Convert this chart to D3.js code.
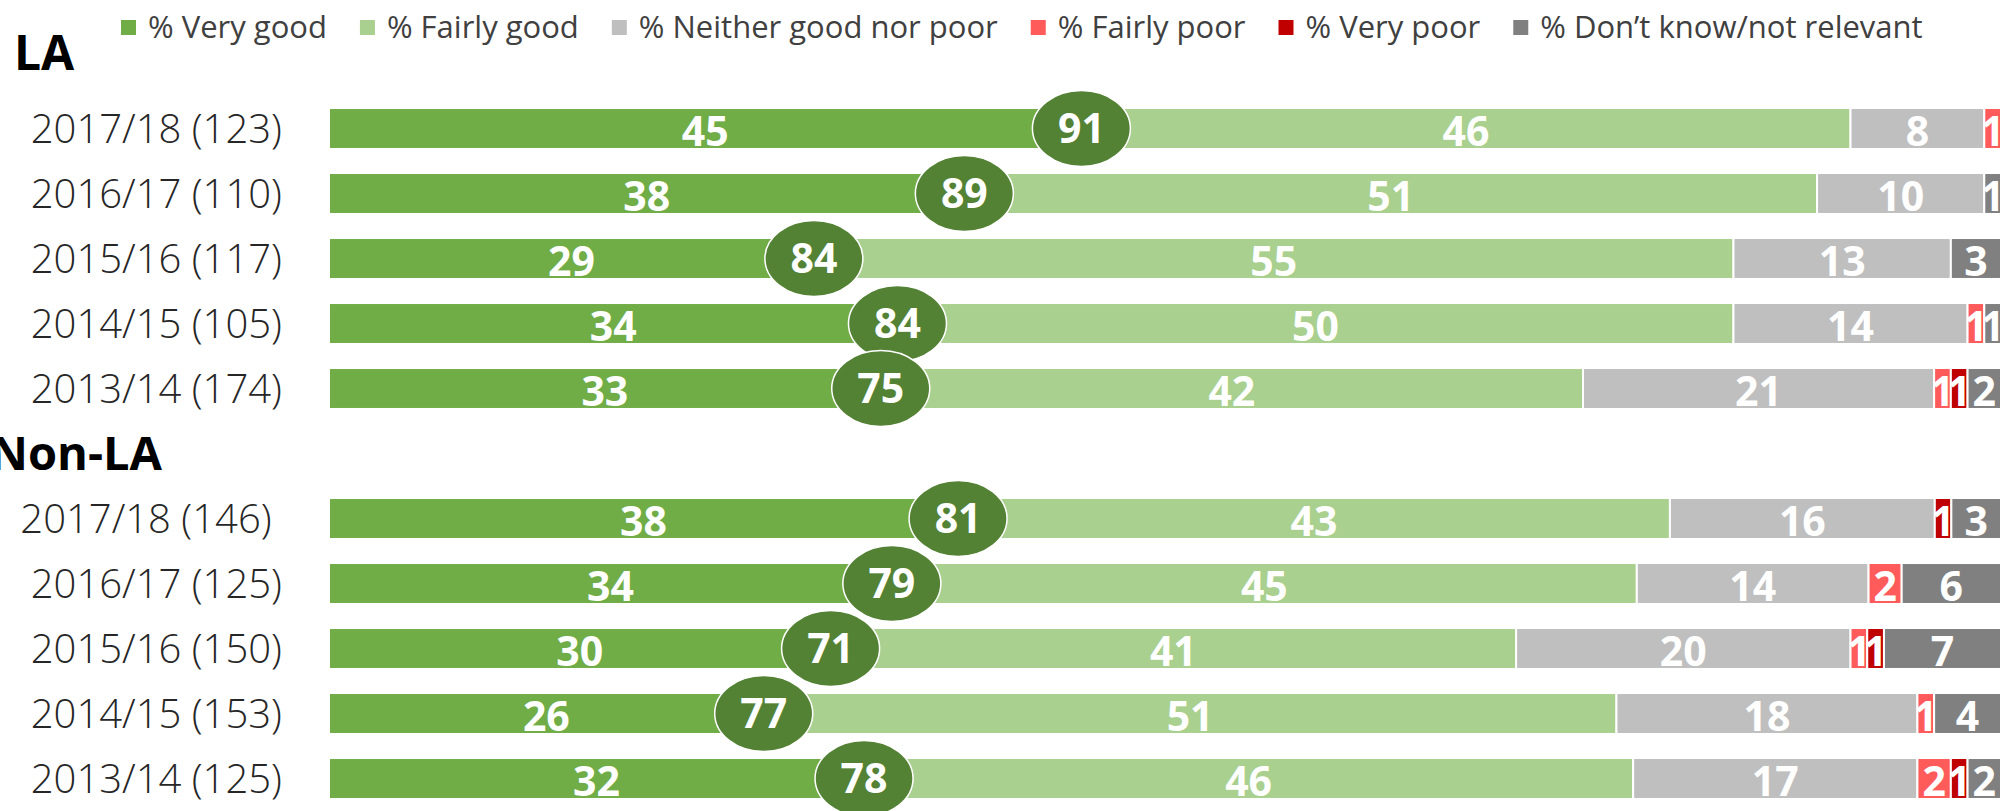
<!DOCTYPE html>
<html>
<head>
<meta charset="utf-8">
<script src="https://cdn.jsdelivr.net/npm/d3@7"></script>
<style>
  body { margin: 0; background: #fff; }
  svg { display: block; font-family: "Open Sans", "Noto Sans", sans-serif; }
</style>
</head>
<body>
<div id="chart"></div>
<script>
// series (legend order = stacking order)
var seriesNames = ["% Very good", "% Fairly good", "% Neither good nor poor",
    "% Fairly poor", "% Very poor", "% Don\u2019t know/not relevant"];
var seriesColors = ["#70AD47", "#A9D08E", "#BFBFBF", "#FF5B5B", "#C00000", "#808080"];

// LA
var laYears = ["2017/18 (123)", "2016/17 (110)", "2015/16 (117)", "2014/15 (105)", "2013/14 (174)"];
var laVeryGood   = [45, 38, 29, 34, 33];
var laFairlyGood = [46, 51, 55, 50, 42];
var laNeither    = [8, 10, 13, 14, 21];
var laFairlyPoor = [1, 0, 0, 1, 1];
var laVeryPoor   = [0, 0, 0, 0, 1];
var laDontKnow   = [0, 1, 3, 1, 2];
var laNetGood    = [91, 89, 84, 84, 75];

// Non-LA
var nonLaYears = ["2017/18 (146)\u00a0", "2016/17 (125)", "2015/16 (150)", "2014/15 (153)", "2013/14 (125)"];
var nonLaVeryGood   = [38, 34, 30, 26, 32];
var nonLaFairlyGood = [43, 45, 41, 51, 46];
var nonLaNeither    = [16, 14, 20, 18, 17];
var nonLaFairlyPoor = [0, 2, 1, 1, 2];
var nonLaVeryPoor   = [1, 0, 1, 0, 1];
var nonLaDontKnow   = [3, 6, 7, 4, 2];
var nonLaNetGood    = [81, 79, 71, 77, 78];

var width = 2004, height = 811;

function buildRows(group, years, cols, net) {
    return years.map(function (yr, i) {
        var r = {key: group + "|" + yr, label: yr, net: net[i]};
        seriesNames.forEach(function (s, j) { r[s] = cols[j][i]; });
        return r;
    });
}

var rows = buildRows("LA", laYears,
        [laVeryGood, laFairlyGood, laNeither, laFairlyPoor, laVeryPoor, laDontKnow], laNetGood)
    .concat(buildRows("Non-LA", nonLaYears,
        [nonLaVeryGood, nonLaFairlyGood, nonLaNeither, nonLaFairlyPoor, nonLaVeryPoor, nonLaDontKnow], nonLaNetGood));

// one empty band between the two groups carries the "Non-LA" heading
var yDomain = rows.slice(0, 5).map(function (d) { return d.key; })
    .concat(["Non-LA"])
    .concat(rows.slice(5).map(function (d) { return d.key; }));

var yScale = d3.scaleBand()
    .domain(yDomain)
    .range([96, 811])
    .paddingInner(0.37)
    .paddingOuter(0.185);

var xScale = d3.scaleLinear()
    .domain([0, 1])
    .range([329, 2001]);

var color = d3.scaleOrdinal().domain(seriesNames).range(seriesColors);

var stacked = d3.stack()
    .keys(seriesNames)
    .offset(d3.stackOffsetExpand)(rows);

var svg = d3.select("#chart")
    .append("svg")
    .attr("width", width)
    .attr("height", height);

// bars
var layers = svg.append("g").selectAll("g")
    .data(stacked)
    .enter().append("g")
    .attr("fill", function (d) { return color(d.key); });

layers.selectAll("rect")
    .data(function (d) { return d; })
    .enter().append("rect")
    .attr("x", function (d) { return xScale(d[0]); })
    .attr("y", function (d) { return yScale(d.data.key); })
    .attr("width", function (d) { return Math.max(0, xScale(d[1]) - xScale(d[0])); })
    .attr("height", yScale.bandwidth())
    .attr("stroke", "#fff")
    .attr("stroke-width", 2)
    .style("display", function (d) { return d[1] - d[0] > 0 ? null : "none"; });

// value labels inside bars
var labelData = [];
stacked.forEach(function (layer) {
    layer.forEach(function (d) {
        var v = d.data[layer.key];
        if (v > 0) labelData.push({v: v, x0: d[0], x1: d[1], key: d.data.key});
    });
});

svg.append("g").selectAll("text")
    .data(labelData)
    .enter().append("text")
    .attr("x", function (d) { return (xScale(d.x0) + xScale(d.x1)) / 2; })
    .attr("y", function (d) { return yScale(d.key) + yScale.bandwidth() / 2 + 3; })
    .attr("dy", "0.357em")
    .attr("text-anchor", "middle")
    .style("font-size", "41px")
    .style("font-weight", "bold")
    .style("fill", "#fff")
    .text(function (d) { return d.v; });

// net "good" ovals at the very good / fairly good boundary
var ovals = svg.append("g").selectAll("g")
    .data(stacked[0])
    .enter().append("g")
    .attr("transform", function (d) {
        return "translate(" + xScale(d[1]) + "," + (yScale(d.data.key) + yScale.bandwidth() / 2) + ")";
    });

ovals.append("ellipse")
    .attr("rx", 49)
    .attr("ry", 38)
    .attr("fill", "#548235")
    .attr("stroke", "#fff")
    .attr("stroke-width", 1.5);

ovals.append("text")
    .attr("dy", "0.357em")
    .attr("text-anchor", "middle")
    .style("font-size", "41px")
    .style("font-weight", "bold")
    .style("fill", "#fff")
    .text(function (d) { return d.data.net; });

// category labels
svg.append("g").selectAll("text")
    .data(rows)
    .enter().append("text")
    .attr("x", 282)
    .attr("y", function (d) { return yScale(d.key) + yScale.bandwidth() / 2; })
    .attr("dy", "0.357em")
    .attr("text-anchor", "end")
    .style("font-size", "40px")
    .style("font-weight", 300)
    .style("fill", "#262626")
    .text(function (d) { return d.label; });

// group headings
svg.append("text")
    .attr("x", 14)
    .attr("y", 70)
    .style("font-size", "48px")
    .style("font-weight", "bold")
    .style("fill", "#000")
    .text("LA");

svg.append("text")
    .attr("x", 162)
    .attr("y", yScale("Non-LA") + yScale.bandwidth() / 2)
    .attr("dy", "0.357em")
    .attr("text-anchor", "end")
    .style("font-size", "47px")
    .style("font-weight", "bold")
    .style("fill", "#000")
    .text("Non-LA");

// legend
var legend = svg.append("g").attr("transform", "translate(121,0)");
var lx = 0;
seriesNames.forEach(function (s) {
    var item = legend.append("g").attr("transform", "translate(" + lx + ",0)");
    item.append("rect")
        .attr("x", 0)
        .attr("y", 20)
        .attr("width", 15)
        .attr("height", 15)
        .attr("fill", color(s));
    var t = item.append("text")
        .attr("x", 27)
        .attr("y", 38)
        .style("font-size", "31px")
        .style("fill", "#404040")
        .text(s);
    lx += 27 + t.node().getComputedTextLength() + 33;
});
</script>
</body>
</html>
